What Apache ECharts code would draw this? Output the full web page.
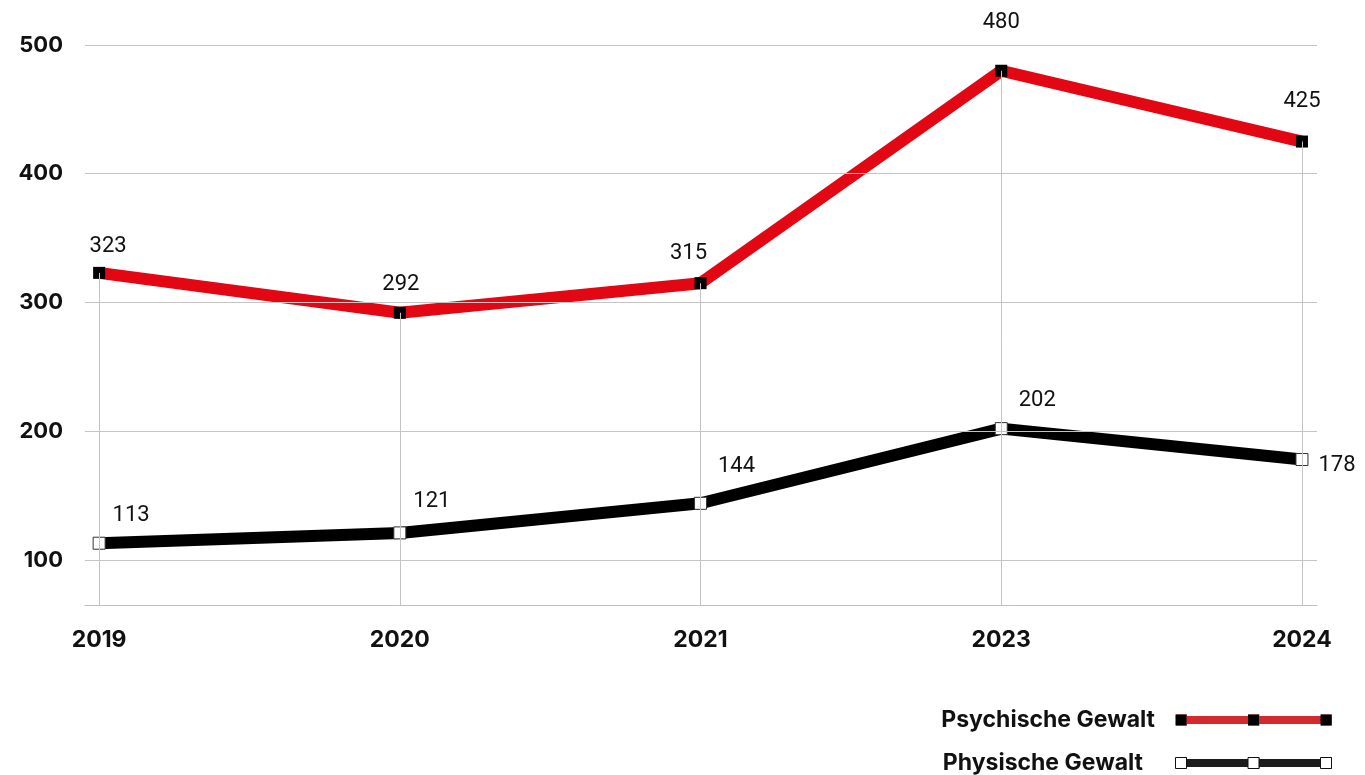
<!DOCTYPE html>
<html>
<head>
<meta charset="utf-8">
<script src="https://cdn.jsdelivr.net/npm/echarts@6/dist/echarts.min.js"></script>
<style>html,body{margin:0;padding:0;background:#fff}#c{width:1365px;height:775px}</style>
</head>
<body>
<div id="c"></div>
<script>
const categories = ['2019', '2020', '2021', '2023', '2024'];
const psychische = [323, 292, 315, 480, 425];
const physische = [113, 121, 144, 202, 178];
const yTicks = [100, 200, 300, 400, 500];
const seriesNames = ['Psychische Gewalt', 'Physische Gewalt'];

const AX_FONT = 'Inter, "Noto Sans", sans-serif';
const LB_FONT = 'Roboto, "Noto Sans", sans-serif';
const yMin = 65, yMax = 500;

// label tweaks (style only)
const redLabelDist = [9, 11, 13, 31, 23];
const redLabelDx = [9, 1, -12, 0, 0];
const blackLabelDist = [10, 14, 19, 11, 10];
const blackLabelDx = [32, 32, 36, 36, 0];

const redData = psychische.map((v, i) => ({
  value: [i, v],
  label: { distance: redLabelDist[i], offset: [redLabelDx[i], 0] }
}));
const blackData = physische.map((v, i) => ({
  value: [i, v],
  label: i === physische.length - 1
    ? { position: 'right', distance: blackLabelDist[i], offset: [0, 6] }
    : { distance: blackLabelDist[i], offset: [blackLabelDx[i], 0] }
}));

const gridLines = yTicks.map(t => ({ yAxis: t }));
const dropLines = psychische.map((v, i) => [{ coord: [i, v] }, { coord: [i, yMin] }]);

const sq = 'M0,0H11V11H0Z M72.5,0H83.5V11H72.5Z M145,0H156V11H145Z';
const baseIcon = 'path://M0,1.5H156V9.5H0Z ' + sq;
const sqIcon = 'path://' + sq;

const legendCommon = {
  orient: 'vertical', right: 33, top: 708, align: 'right', padding: 0,
  itemWidth: 156, itemHeight: 11, itemGap: 19,
  selectedMode: false
};
const legendText = (color, padRight) => ({
  fontFamily: AX_FONT, fontWeight: 'bold', fontSize: 23, color: color, lineHeight: 24, padding: [0, padRight, 0, 0]
});

const chart = echarts.init(document.getElementById('c'), null, { renderer: 'canvas' });
chart.setOption({
  animation: false,
  backgroundColor: '#fff',
  grid: { left: 85, right: 48, top: 45, bottom: 170 },
  xAxis: {
    type: 'value', min: -0.047, max: 4.05,
    axisLine: { show: true, onZero: false, lineStyle: { color: '#bdbdbd', width: 1 } },
    axisTick: { show: false },
    splitLine: { show: false },
    axisLabel: {
      customValues: categories.map((c, i) => i),
      formatter: v => categories[Math.round(v)] || '',
      margin: 24, color: '#111', fontFamily: AX_FONT, fontWeight: 'bold', fontSize: 23
    }
  },
  yAxis: {
    type: 'value', min: yMin, max: yMax,
    axisLine: { show: false }, axisTick: { show: false },
    splitLine: { show: false },
    axisLabel: {
      customValues: yTicks,
      margin: 22, color: '#111', fontFamily: AX_FONT, fontWeight: 'bold', fontSize: 22
    }
  },
  legend: [
    Object.assign({}, legendCommon, {
      data: [
        { name: seriesNames[0], icon: baseIcon, itemStyle: { color: '#d42a2e', borderWidth: 0 }, textStyle: legendText('#111', 16) },
        { name: seriesNames[1], icon: baseIcon, itemStyle: { color: '#1c1c1c', borderWidth: 0 }, textStyle: legendText('#111', 28) }
      ],
      textStyle: legendText('#111', 16)
    }),
    Object.assign({}, legendCommon, {
      data: [
        { name: seriesNames[0], icon: sqIcon, itemStyle: { color: '#000', borderWidth: 0 }, textStyle: legendText('rgba(0,0,0,0)', 16) },
        { name: seriesNames[1], icon: sqIcon, itemStyle: { color: '#fff', borderColor: '#111', borderWidth: 1 }, textStyle: legendText('rgba(0,0,0,0)', 28) }
      ],
      textStyle: legendText('rgba(0,0,0,0)', 16)
    })
  ],
  series: [
    {
      type: 'line', name: '_grid', data: [], silent: true, z: 1,
      markLine: {
        silent: true, symbol: 'none', animation: false,
        label: { show: false },
        lineStyle: { color: '#c4c4c4', width: 1, type: 'solid' },
        data: gridLines.concat(dropLines)
      }
    },
    {
      type: 'line', name: seriesNames[0], data: redData, z: 3,
      lineStyle: { color: '#e30613', width: 12 },
      symbol: 'rect', symbolSize: 12, showAllSymbol: true,
      itemStyle: { color: '#000', borderWidth: 0 },
      label: { show: true, position: 'top', formatter: p => p.value[1], fontFamily: LB_FONT, fontSize: 22, color: '#111' }
    },
    {
      type: 'line', name: seriesNames[1], data: blackData, z: 3,
      lineStyle: { color: '#000', width: 12 },
      symbol: 'rect', symbolSize: 12, showAllSymbol: true,
      itemStyle: { color: '#fff', borderColor: '#333', borderWidth: 1 },
      label: { show: true, position: 'top', formatter: p => p.value[1], fontFamily: LB_FONT, fontSize: 22, color: '#111' }
    }
  ]
});
</script>
</body>
</html>
